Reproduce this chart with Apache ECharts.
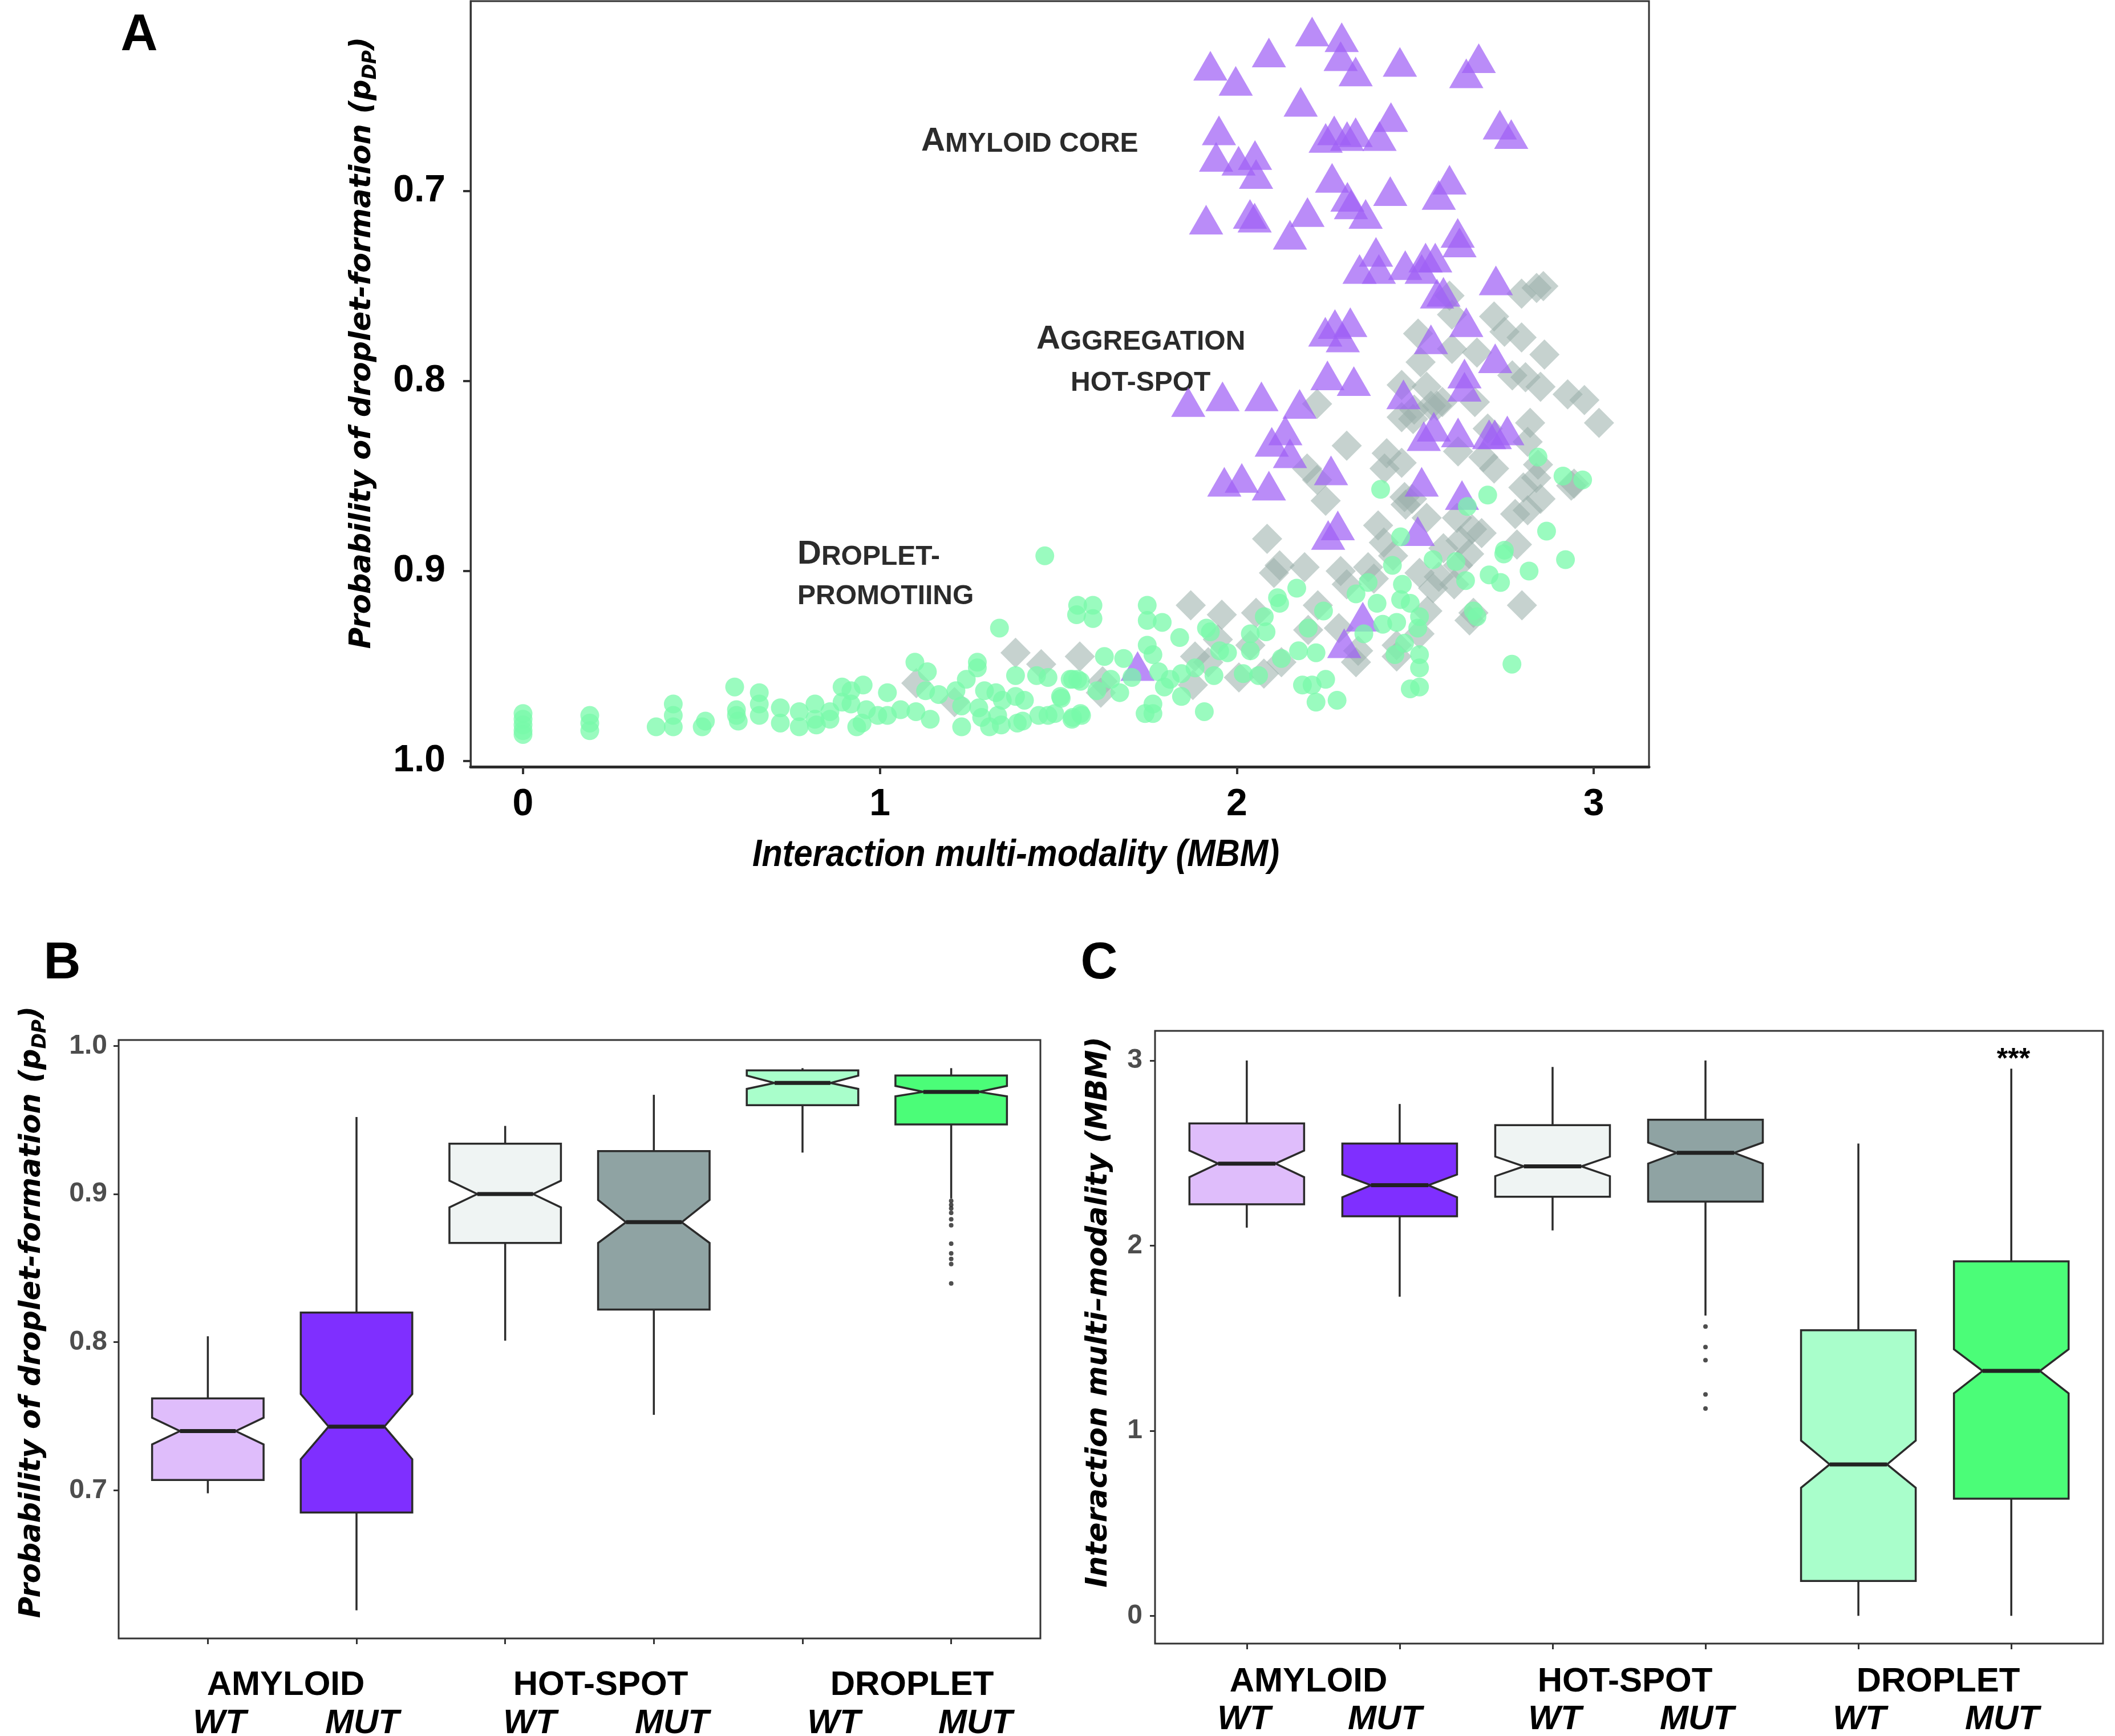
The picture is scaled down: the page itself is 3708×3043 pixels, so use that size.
<!DOCTYPE html>
<html><head><meta charset="utf-8">
<script src="https://cdn.jsdelivr.net/npm/echarts@6/dist/echarts.min.js"></script>
<style>html,body{margin:0;padding:0;background:#fff}#c{width:3708px;height:3043px}</style>
</head><body><div id="c"></div>
<script>
// ---------- Panel A data: [MBM, pDP] ----------
const amyloidCore = [[2.211,0.616],[2.294,0.619],[2.090,0.627],[1.926,0.634],[1.997,0.642],[2.291,0.629],[2.333,0.637],[2.457,0.632],[2.678,0.630],[2.643,0.638],[2.179,0.653],[2.432,0.661],[2.737,0.665],[2.769,0.670],[1.950,0.668],[2.273,0.668],[2.249,0.672],[2.333,0.669],[2.309,0.671],[2.400,0.671],[1.942,0.682],[2.005,0.684],[2.051,0.681],[2.054,0.691],[2.267,0.693],[2.596,0.694],[2.430,0.700],[2.566,0.702],[2.310,0.703],[2.320,0.707],[2.361,0.712],[1.914,0.715],[2.037,0.712],[2.050,0.714],[2.198,0.711],[2.149,0.723],[2.619,0.722],[2.624,0.727],[2.390,0.732],[2.344,0.741],[2.398,0.741],[2.472,0.739],[2.529,0.735],[2.556,0.735],[2.518,0.741],[2.726,0.747],[2.561,0.754],[2.579,0.753],[2.275,0.770],[2.318,0.769],[2.248,0.774],[2.297,0.777],[2.643,0.769],[2.544,0.778],[2.724,0.788],[2.254,0.797],[2.328,0.800],[1.864,0.811],[1.960,0.808],[2.069,0.808],[2.176,0.812],[2.136,0.826],[2.098,0.832],[2.149,0.838],[1.965,0.853],[2.014,0.851],[2.090,0.855],[2.264,0.847],[2.467,0.807],[2.638,0.796],[2.638,0.803],[2.552,0.824],[2.524,0.829],[2.620,0.827],[2.707,0.828],[2.758,0.826],[2.723,0.828],[2.518,0.853],[2.631,0.860],[2.283,0.876],[2.256,0.881],[2.507,0.879],[2.353,0.924],[2.301,0.938],[1.722,0.950]];

const hotSpot = [[2.596,0.755],[2.798,0.754],[2.840,0.751],[2.859,0.750],[2.721,0.766],[2.508,0.775],[2.603,0.765],[2.750,0.774],[2.798,0.777],[2.862,0.786],[2.673,0.785],[2.515,0.790],[2.603,0.783],[2.809,0.798],[2.851,0.803],[2.927,0.807],[2.974,0.810],[3.015,0.822],[2.822,0.822],[2.462,0.802],[2.532,0.803],[2.561,0.813],[2.462,0.819],[2.497,0.815],[2.225,0.812],[2.308,0.834],[2.420,0.838],[2.462,0.843],[2.414,0.846],[2.620,0.837],[2.721,0.846],[2.703,0.825],[2.815,0.832],[2.844,0.844],[2.945,0.854],[2.803,0.856],[2.851,0.862],[2.815,0.868],[2.780,0.870],[2.491,0.862],[2.473,0.865],[2.532,0.872],[2.249,0.863],[2.197,0.846],[2.225,0.852],[2.085,0.883],[2.785,0.886],[2.438,0.892],[2.579,0.888],[2.627,0.884],[2.686,0.880],[2.651,0.891],[2.609,0.907],[1.871,0.918],[1.958,0.923],[2.054,0.922],[2.120,0.897],[2.104,0.901],[2.190,0.898],[2.291,0.900],[2.308,0.907],[2.368,0.898],[2.384,0.904],[2.512,0.901],[2.550,0.909],[2.566,0.903],[2.620,0.897],[2.799,0.918],[2.652,0.926],[2.663,0.922],[2.227,0.918],[2.200,0.931],[2.286,0.930],[2.340,0.942],[2.334,0.948],[2.448,0.945],[2.448,0.939],[2.512,0.933],[2.534,0.921],[1.560,0.945],[1.619,0.964],[1.624,0.958],[1.883,0.945],[1.920,0.948],[2.006,0.956],[2.076,0.954],[2.125,0.948],[2.038,0.939],[1.947,0.936],[1.877,0.960],[1.380,0.943],[1.452,0.949],[1.102,0.959],[1.209,0.969],[2.494,0.820],[2.544,0.813],[2.576,0.811],[2.667,0.811],[2.772,0.797],[2.691,0.840],[2.839,0.851],[2.937,0.855],[2.617,0.872],[2.659,0.878],[2.396,0.876],[2.412,0.885],[2.470,0.861]];

const dropletPromoting = [[0,0.975],[0,0.978],[0,0.981],[0,0.984],[0,0.986],[0.187,0.976],[0.187,0.980],[0.187,0.984],[0.373,0.982],[0.421,0.970],[0.421,0.976],[0.421,0.982],[0.502,0.982],[0.511,0.979],[0.593,0.961],[0.598,0.973],[0.598,0.976],[0.603,0.979],[0.662,0.964],[0.662,0.970],[0.662,0.976],[0.721,0.972],[0.721,0.980],[0.774,0.974],[0.774,0.982],[0.818,0.970],[0.818,0.978],[0.822,0.981],[0.860,0.978],[0.860,0.974],[0.894,0.961],[0.894,0.969],[0.919,0.963],[0.919,0.970],[0.953,0.960],[0.935,0.982],[0.950,0.980],[0.962,0.973],[0.994,0.976],[1.021,0.976],[1.021,0.964],[1.058,0.973],[1.101,0.974],[1.098,0.948],[1.133,0.953],[1.128,0.963],[1.165,0.965],[1.213,0.963],[1.229,0.971],[1.141,0.978],[1.229,0.982],[1.285,0.977],[1.307,0.982],[1.277,0.972],[1.273,0.948],[1.273,0.951],[1.242,0.957],[1.293,0.963],[1.325,0.964],[1.343,0.968],[1.330,0.976],[1.340,0.981],[1.380,0.955],[1.380,0.966],[1.405,0.968],[1.400,0.979],[1.385,0.980],[1.439,0.955],[1.471,0.956],[1.445,0.976],[1.471,0.976],[1.508,0.967],[1.540,0.957],[1.562,0.958],[1.540,0.977],[1.562,0.975],[1.335,0.930],[1.551,0.923],[1.462,0.892],[1.554,0.918],[1.597,0.918],[1.597,0.925],[1.749,0.918],[1.749,0.926],[1.791,0.927],[1.840,0.935],[1.915,0.930],[1.926,0.932],[1.952,0.942],[1.974,0.943],[2.038,0.933],[2.082,0.932],[2.077,0.924],[2.114,0.914],[2.120,0.917],[2.168,0.909],[2.038,0.942],[2.125,0.946],[2.173,0.942],[2.222,0.943],[2.200,0.930],[2.243,0.921],[2.334,0.912],[2.368,0.906],[2.393,0.917],[2.356,0.933],[2.409,0.928],[2.448,0.927],[2.507,0.930],[2.512,0.924],[2.436,0.897],[2.464,0.907],[2.459,0.915],[2.486,0.917],[2.470,0.938],[2.443,0.944],[2.512,0.944],[2.512,0.951],[2.486,0.962],[2.512,0.961],[2.184,0.960],[2.211,0.960],[2.249,0.957],[2.222,0.969],[2.281,0.968],[1.909,0.974],[1.743,0.975],[1.765,0.975],[1.765,0.970],[1.845,0.966],[1.845,0.954],[1.813,0.957],[1.797,0.961],[1.781,0.953],[1.765,0.944],[1.749,0.939],[1.706,0.956],[1.672,0.964],[1.629,0.945],[1.683,0.946],[1.554,0.957],[1.533,0.957],[1.506,0.966],[1.490,0.975],[1.538,0.978],[1.565,0.976],[1.608,0.963],[1.647,0.957],[1.883,0.951],[1.936,0.955],[2.018,0.954],[2.061,0.955],[2.771,0.949],[2.921,0.894],[2.819,0.900],[2.707,0.902],[2.739,0.906],[2.641,0.905],[2.614,0.895],[2.550,0.894],[2.748,0.891],[2.663,0.921],[2.673,0.924],[2.403,0.857],[2.844,0.840],[2.914,0.850],[2.969,0.852],[2.703,0.860],[2.646,0.866],[2.868,0.879],[2.459,0.882],[2.750,0.889]];

// ---------- Panels B & C ----------
const groupLabels = ['AMYLOID','HOT-SPOT','DROPLET'];
const variantLabels = ['WT','MUT','WT','MUT','WT','MUT'];
const boxPositions = [1,2,3,4,5,6];
// [low whisker, Q1, notch low, median, notch high, Q3, high whisker]
const pdpStats = [
  [0.698,0.707,0.731,0.740,0.749,0.762,0.804],
  [0.619,0.685,0.721,0.743,0.765,0.820,0.952],
  [0.801,0.867,0.891,0.900,0.909,0.934,0.946],
  [0.751,0.822,0.867,0.881,0.896,0.929,0.967],
  [0.928,0.960,0.971,0.975,0.980,0.9835,0.985],
  [0.897,0.947,0.966,0.969,0.973,0.980,0.985]
];
const pdpOutliersDropletMut = [0.8954,0.8927,0.8903,0.8873,0.8830,0.8789,0.8665,0.860,0.8562,0.8527,0.8396];
const mbmStats = [
  [2.097,2.223,2.370,2.443,2.513,2.660,3.0],
  [1.724,2.158,2.261,2.326,2.384,2.551,2.765],
  [2.082,2.264,2.375,2.428,2.481,2.651,2.965],
  [1.622,2.238,2.443,2.501,2.557,2.680,3.0],
  [0.0,0.188,0.692,0.818,0.947,1.543,2.551],
  [0.0,0.633,1.202,1.323,1.440,1.915,2.956]
];
const mbmOutliersHotspotMut = [1.563,1.452,1.381,1.196,1.120];
const pdpTicks = [0.7,0.8,0.9,1.0];
const mbmTicks = [0,1,2,3];

// ---------- styles ----------
const boxColors = ['#dfbdfb','#7f2fff','#eff4f3','#8fa3a3','#a9fecb','#4bfd78'];
const SANS = "'Liberation Sans', Arial, Helvetica, sans-serif";
const DJV = "'DejaVu Sans', Verdana, sans-serif";
const EDGE = '#2b2b2b';

const chart = echarts.init(document.getElementById('c'), null, {renderer:'canvas', width:3708, height:3043});

function boxRender(colors){
  return function(params, api){
    const x = api.value(0);
    const lo=api.value(1), q1=api.value(2), nlo=api.value(3), med=api.value(4), nhi=api.value(5), q3=api.value(6), hi=api.value(7);
    const w = api.size([0.75,0])[0];
    const cx = api.coord([x, med])[0];
    const py = v => api.coord([x, v])[1];
    const hw = w/2, qw = w/4;
    const pts = [[cx-hw,py(q3)],[cx+hw,py(q3)],[cx+hw,py(nhi)],[cx+qw,py(med)],[cx+hw,py(nlo)],[cx+hw,py(q1)],
                 [cx-hw,py(q1)],[cx-hw,py(nlo)],[cx-qw,py(med)],[cx-hw,py(nhi)]];
    return {type:'group', children:[
      {type:'line', shape:{x1:cx,y1:py(q3),x2:cx,y2:py(hi)}, style:{stroke:EDGE,lineWidth:3.5}},
      {type:'line', shape:{x1:cx,y1:py(q1),x2:cx,y2:py(lo)}, style:{stroke:EDGE,lineWidth:3.5}},
      {type:'polygon', shape:{points:pts}, style:{fill:colors[params.dataIndex], stroke:EDGE, lineWidth:3.5, lineJoin:'miter'}},
      {type:'line', shape:{x1:cx-qw,y1:py(med),x2:cx+qw,y2:py(med)}, style:{stroke:'#222',lineWidth:7}}
    ]};
  };
}

function valueAxisX(gi, min, max, ticks){
  return {gridIndex:gi, type:'value', min:min, max:max,
    axisLine:{show:false, onZero:false}, splitLine:{show:false},
    axisTick:{show:true, customValues:ticks, length:10, lineStyle:{color:'#333', width:3}},
    axisLabel:{show:false}};
}

const txt = (x,y,text,o) => Object.assign({type:'text', x:x, y:y, silent:true,
  style:Object.assign({text:text, fill:'#000', fontFamily:SANS, fontWeight:'bold', fontSize:60, align:'center', verticalAlign:'bottom'}, o.style||{})},
  o.el||{});

const graphics = [];
graphics.push(txt(244,108,'A',{style:{fontSize:90}}));
graphics.push(txt(109,1735,'B',{style:{fontSize:90}}));
graphics.push(txt(1927,1735,'C',{style:{fontSize:90}}));
// panel A annotations (small caps)
const scRich = {big:{fontFamily:SANS,fontWeight:'bold',fontSize:58,fill:'#2b2b2b',verticalAlign:'bottom'},
                sm:{fontFamily:SANS,fontWeight:'bold',fontSize:48,fill:'#2b2b2b',verticalAlign:'bottom'}};
[[1615,277,'{big|A}{sm|MYLOID CORE}'],[1817,624,'{big|A}{sm|GGREGATION}'],[1877,696,'{sm|HOT-SPOT}'],
 [1398,1001,'{big|D}{sm|ROPLET-}'],[1398,1070,'{sm|PROMOTIING}']].forEach(a=>{
  graphics.push({type:'text', x:a[0], y:a[1], silent:true, style:{text:a[2], rich:scRich, align:'left', verticalAlign:'bottom'}});
});
// axis titles
graphics.push(txt(1781,1500,'Interaction multi-modality (MBM)',{style:{fontSize:66, fontStyle:'italic', verticalAlign:'middle'}, el:{scaleX:0.9}}));
const ttlRich = {m:{fontFamily:DJV,fontWeight:'bold',fontStyle:'italic',fontSize:51,lineHeight:62,fill:'#000',verticalAlign:'middle'},
                 s:{fontFamily:DJV,fontWeight:'bold',fontStyle:'italic',fontSize:33,lineHeight:34,fill:'#000',verticalAlign:'bottom'}};
const pdpTitle = '{m|Probability of droplet-formation (p}{s|DP}{m|)}';
[[636,601],[57,2300]].forEach(p=>graphics.push({type:'text', x:p[0], y:p[1], rotation:Math.PI/2, silent:true,
  style:{text:pdpTitle, rich:ttlRich, align:'center', verticalAlign:'middle'}}));
graphics.push({type:'text', x:1927, y:2300, rotation:Math.PI/2, silent:true,
  style:{text:'Interaction multi\u2013modality (MBM)', fontFamily:DJV, fontWeight:'bold', fontStyle:'italic', fontSize:51, fill:'#000', align:'center', verticalAlign:'middle'}});
// group & variant labels
const bGroupX=[501,1053,1599], cGroupX=[2294,2849,3398];
const bVarX=[385,635,929,1178,1462,1710], cVarX=[2181,2428,2726,2975,3260,3510];
groupLabels.forEach((g,i)=>{ graphics.push(txt(bGroupX[i],2984,g,{})); graphics.push(txt(cGroupX[i],2978,g,{})); });
variantLabels.forEach((v,i)=>{
  graphics.push(txt(bVarX[i],3051,v,{style:{fontStyle:'italic'}}));
  graphics.push(txt(cVarX[i],3044,v,{style:{fontStyle:'italic'}}));
});
graphics.push(txt(3530,1858,'***',{style:{fontSize:50, verticalAlign:'middle'}}));

const option = {
  animation:false,
  backgroundColor:'#fff',
  grid:[
    {left:825, top:2, width:2066, height:1342, show:true, borderColor:'#333', borderWidth:3, backgroundColor:'transparent'},
    {left:208, top:1823, width:1616, height:1049, show:true, borderColor:'#333', borderWidth:3, backgroundColor:'transparent'},
    {left:2025, top:1807, width:1662, height:1074, show:true, borderColor:'#333', borderWidth:3, backgroundColor:'transparent'}
  ],
  xAxis:[
    {gridIndex:0, type:'value', min:-0.147, max:3.155, splitLine:{show:false},
      axisLine:{show:true, onZero:false, lineStyle:{color:'#2b2b2b', width:5}},
      axisTick:{show:true, customValues:mbmTicks, length:13, lineStyle:{color:'#333', width:4}},
      axisLabel:{customValues:mbmTicks, fontSize:66, fontWeight:'bold', color:'#000', fontFamily:SANS, margin:34}},
    valueAxisX(1, 0.4, 6.6, boxPositions),
    valueAxisX(2, 0.4, 6.6, boxPositions)
  ],
  yAxis:[
    {gridIndex:0, type:'value', inverse:true, min:0.6, max:1.003, splitLine:{show:false},
      axisLine:{show:true, onZero:false, lineStyle:{color:'#333', width:3}},
      axisTick:{show:true, customValues:pdpTicks, length:13, lineStyle:{color:'#333', width:4}},
      axisLabel:{customValues:pdpTicks, formatter:v=>Number(v).toFixed(1), fontSize:66, fontWeight:'bold', color:'#000', fontFamily:SANS, margin:44}},
    {gridIndex:1, type:'value', min:0.6, max:1.004, splitLine:{show:false}, axisLine:{show:false, onZero:false},
      axisTick:{show:true, customValues:pdpTicks, length:9, lineStyle:{color:'#333', width:3}},
      axisLabel:{customValues:pdpTicks, formatter:v=>Number(v).toFixed(1), fontSize:48, fontWeight:'bold', color:'#4d4d4d', fontFamily:SANS, margin:20}},
    {gridIndex:2, type:'value', min:-0.15, max:3.16, splitLine:{show:false}, axisLine:{show:false, onZero:false},
      axisTick:{show:true, customValues:mbmTicks, length:9, lineStyle:{color:'#333', width:3}},
      axisLabel:{customValues:mbmTicks, fontSize:48, fontWeight:'bold', color:'#4d4d4d', fontFamily:SANS, margin:22}}
  ],
  series:[
    {type:'scatter', xAxisIndex:0, yAxisIndex:0, data:hotSpot, symbol:'diamond', symbolSize:53, silent:true,
      itemStyle:{color:'#9aaeaa', opacity:0.56}},
    {type:'scatter', xAxisIndex:0, yAxisIndex:0, data:amyloidCore, symbol:'triangle', symbolSize:[60,52], silent:true,
      itemStyle:{color:'#a060f5', opacity:0.72}},
    {type:'scatter', xAxisIndex:0, yAxisIndex:0, data:dropletPromoting, symbol:'circle', symbolSize:33, silent:true,
      itemStyle:{color:'#78faaa', opacity:0.75}},
    {type:'custom', xAxisIndex:1, yAxisIndex:1, silent:true, renderItem:boxRender(boxColors),
      encode:{x:0, y:[1,2,3,4,5,6,7]}, data:pdpStats.map((s,i)=>[boxPositions[i]].concat(s))},
    {type:'scatter', xAxisIndex:1, yAxisIndex:1, silent:true, symbolSize:8, itemStyle:{color:'#222'},
      data:pdpOutliersDropletMut.map(v=>[boxPositions[5], v])},
    {type:'custom', xAxisIndex:2, yAxisIndex:2, silent:true, renderItem:boxRender(boxColors),
      encode:{x:0, y:[1,2,3,4,5,6,7]}, data:mbmStats.map((s,i)=>[boxPositions[i]].concat(s))},
    {type:'scatter', xAxisIndex:2, yAxisIndex:2, silent:true, symbolSize:8, itemStyle:{color:'#222'},
      data:mbmOutliersHotspotMut.map(v=>[boxPositions[3], v])}
  ],
  graphic: graphics
};
chart.setOption(option);
</script></body></html>
